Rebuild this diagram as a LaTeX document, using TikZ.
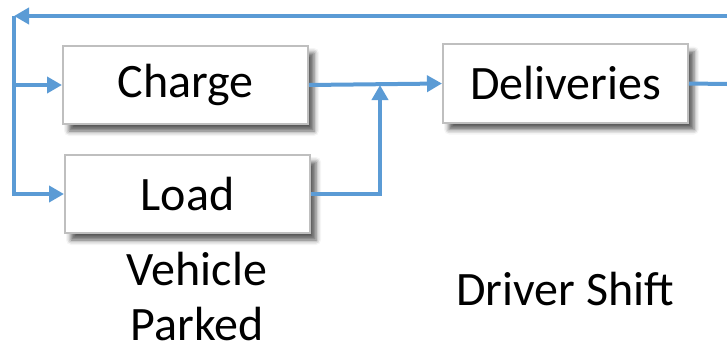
\documentclass[tikz,border=0pt]{standalone}
\usepackage{fontspec}
\setmainfont{Carlito}
\usetikzlibrary{arrows.meta, shadows.blur, positioning}
\definecolor{flowBlue}{HTML}{5B9BD5}
\definecolor{boxGrey}{HTML}{BFBFBF}
\tikzset{
  flow/.style     = {flowBlue, line width=4pt},
  flowarrow/.style = {flow, -{Triangle[length=15pt, width=16pt]}},
  stagebox/.style = {draw=boxGrey, line width=2pt, fill=white,
                     minimum width=245pt, minimum height=78pt,
                     font=\fontsize{48pt}{57pt}\selectfont,
                     blur shadow={shadow xshift=6pt, shadow yshift=-7pt,
                                  shadow blur radius=5pt, shadow opacity=65}},
  lbl/.style      = {font=\fontsize{48pt}{55pt}\selectfont, align=center,
                     inner sep=0pt, text depth=0pt},
}

\begin{document}
\begin{tikzpicture}[x=1pt, y=-1pt]
  \useasboundingbox (0,0) rectangle (727,345);
  \clip (0,0) rectangle (727,345);
  % the three stages
  \node[stagebox] (charge) at (185.5,85)  {Charge};
  \node[stagebox] (load)   at (187.5,194) {Load};
  \node[stagebox] (deliv)  at (565.5,83.5) {Deliveries};
  % loose ends running out to the right
  \coordinate (topend) at (727,16);
  \coordinate (outend) at (727,84);
  \coordinate (corner) at (14,16);
  \coordinate (join)   at (380,85);
  % return loop back to the start
  \draw[flowarrow] (topend) -- (corner);
  \draw[flowarrow] (corner) |- (load.west);
  \draw[flowarrow] (corner |- charge.west) -- (charge.west);
  % both parked tasks feed the deliveries
  \draw[flowarrow] (charge.east) -- (deliv.west);
  \draw[flowarrow] (load.east) -| (join);
  \draw[flow] (deliv.east) -- (outend);
  % phase labels (base is the last line)
  \node[lbl, anchor=base] (parked) at (197,340) {Vehicle\\Parked};
  \node[lbl, anchor=base] (shift)  at (565,305) {Driver Shift};
\end{tikzpicture}
\end{document}
